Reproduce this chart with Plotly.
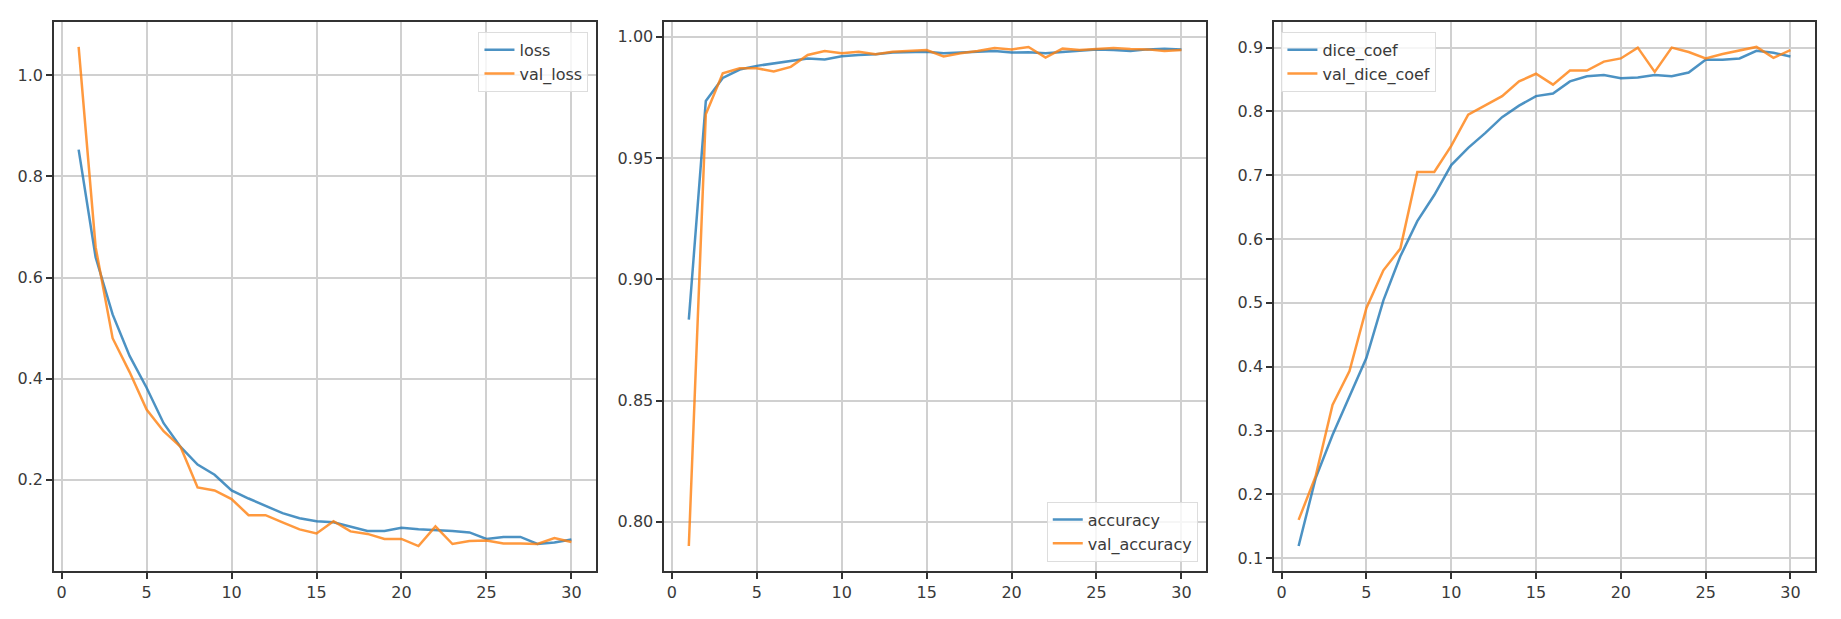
"""
Training history: loss / accuracy / dice coefficient per epoch
"""

import plotly.graph_objects as go
from plotly.subplots import make_subplots

# epochs
epochs = list(range(1, 31))

# loss
loss = [0.853, 0.640, 0.527, 0.445, 0.382, 0.312, 0.265, 0.230, 0.210, 0.179,
        0.163, 0.149, 0.134, 0.124, 0.118, 0.116, 0.107, 0.099, 0.099, 0.105,
        0.102, 0.101, 0.099, 0.096, 0.083, 0.087, 0.087, 0.073, 0.076, 0.082]
val_loss = [1.056, 0.660, 0.480, 0.413, 0.339, 0.296, 0.265, 0.185, 0.179, 0.162,
            0.130, 0.130, 0.116, 0.102, 0.094, 0.118, 0.098, 0.093, 0.083, 0.083,
            0.069, 0.108, 0.073, 0.079, 0.080, 0.074, 0.074, 0.073, 0.085, 0.077]

# accuracy
accuracy = [0.8834, 0.9735, 0.9830, 0.9865, 0.9880, 0.9890, 0.9900, 0.9910, 0.9906, 0.9920,
            0.9925, 0.9928, 0.9935, 0.9938, 0.9938, 0.9932, 0.9935, 0.9941, 0.9941, 0.9935,
            0.9936, 0.9932, 0.9938, 0.9941, 0.9948, 0.9945, 0.9941, 0.9948, 0.9951, 0.9948]
val_accuracy = [0.7900, 0.9680, 0.9849, 0.9870, 0.9870, 0.9857, 0.9876, 0.9925, 0.9941, 0.9932,
                0.9938, 0.9928, 0.9938, 0.9941, 0.9945, 0.9919, 0.9932, 0.9941, 0.9954, 0.9948,
                0.9958, 0.9914, 0.9951, 0.9945, 0.9948, 0.9954, 0.9950, 0.9948, 0.9941, 0.9945]

# dice coefficient
dice_coef = [0.119, 0.225, 0.293, 0.355, 0.414, 0.504, 0.573, 0.628, 0.669, 0.716,
             0.743, 0.766, 0.791, 0.809, 0.824, 0.828, 0.847, 0.855, 0.857, 0.852,
             0.853, 0.857, 0.855, 0.861, 0.881, 0.881, 0.883, 0.895, 0.892, 0.886]
val_dice_coef = [0.160, 0.228, 0.340, 0.393, 0.492, 0.551, 0.585, 0.705, 0.705, 0.746,
                 0.795, 0.809, 0.824, 0.847, 0.859, 0.842, 0.864, 0.864, 0.878, 0.883,
                 0.900, 0.862, 0.900, 0.893, 0.883, 0.890, 0.895, 0.901, 0.884, 0.896]

BLUE = "rgba(31,119,180,0.8)"
ORANGE = "rgba(255,127,14,0.8)"
FONT = dict(family="DejaVu Sans", size=16, color="#3a3a3a")


def auto_range(*series):
    # matplotlib style 5% margin
    lo = min(min(s) for s in series)
    hi = max(max(s) for s in series)
    pad = (hi - lo) * 0.05
    return [lo - pad, hi + pad]


panels = [
    ("loss", loss, "val_loss", val_loss, [0.2, 0.4, 0.6, 0.8, 1.0], ".1f"),
    ("accuracy", accuracy, "val_accuracy", val_accuracy, [0.80, 0.85, 0.90, 0.95, 1.00], ".2f"),
    ("dice_coef", dice_coef, "val_dice_coef", val_dice_coef,
     [0.1, 0.2, 0.3, 0.4, 0.5, 0.6, 0.7, 0.8, 0.9], ".1f"),
]

fig = make_subplots(rows=1, cols=3)

legend_names = ["legend", "legend2", "legend3"]
for i, (n1, s1, n2, s2, yticks, fmt) in enumerate(panels):
    col = i + 1
    fig.add_trace(
        go.Scatter(x=epochs, y=s1, mode="lines", name=n1,
                   line=dict(color=BLUE, width=2.5), legend=legend_names[i]),
        row=1, col=col,
    )
    fig.add_trace(
        go.Scatter(x=epochs, y=s2, mode="lines", name=n2,
                   line=dict(color=ORANGE, width=2.5), legend=legend_names[i]),
        row=1, col=col,
    )
    fig.update_yaxes(
        range=auto_range(s1, s2),
        tickvals=yticks,
        tickformat=fmt,
        row=1, col=col,
    )

domains = [[0.0, 0.3078], [0.3465, 0.6542], [0.6928, 1.0]]
for i, dom in enumerate(domains):
    fig.update_xaxes(domain=dom, row=1, col=i + 1)

fig.update_xaxes(
    range=[epochs[0] - 0.05 * (epochs[-1] - epochs[0]),
           epochs[-1] + 0.05 * (epochs[-1] - epochs[0])],
    tickvals=[0, 5, 10, 15, 20, 25, 30],
)
axis_style = dict(
    showline=True, mirror=True, linecolor="#333333", linewidth=1.5,
    ticks="outside", ticklen=6, tickwidth=1.5, tickcolor="#333333",
    showgrid=True, gridcolor="#d0d0d0", gridwidth=1.5, zeroline=False,
    tickfont=FONT, automargin=False,
)
fig.update_xaxes(**axis_style)
fig.update_yaxes(**axis_style)

legend_style = dict(
    font=FONT, bgcolor="rgba(255,255,255,0.8)", bordercolor="#dddddd",
    borderwidth=1, tracegroupgap=0,
)

# the page body adds 8px on the left and top
fig.update_layout(
    width=1833,
    height=611,
    margin=dict(l=46, r=26, t=14, b=48),
    paper_bgcolor="white",
    plot_bgcolor="white",
    font=FONT,
    legend=dict(x=0.3035, y=0.982, xanchor="right", yanchor="top", **legend_style),
    legend2=dict(x=0.6495, y=0.017, xanchor="right", yanchor="bottom", **legend_style),
    legend3=dict(x=0.697, y=0.982, xanchor="left", yanchor="top", **legend_style),
)

fig.write_html("out.html")
